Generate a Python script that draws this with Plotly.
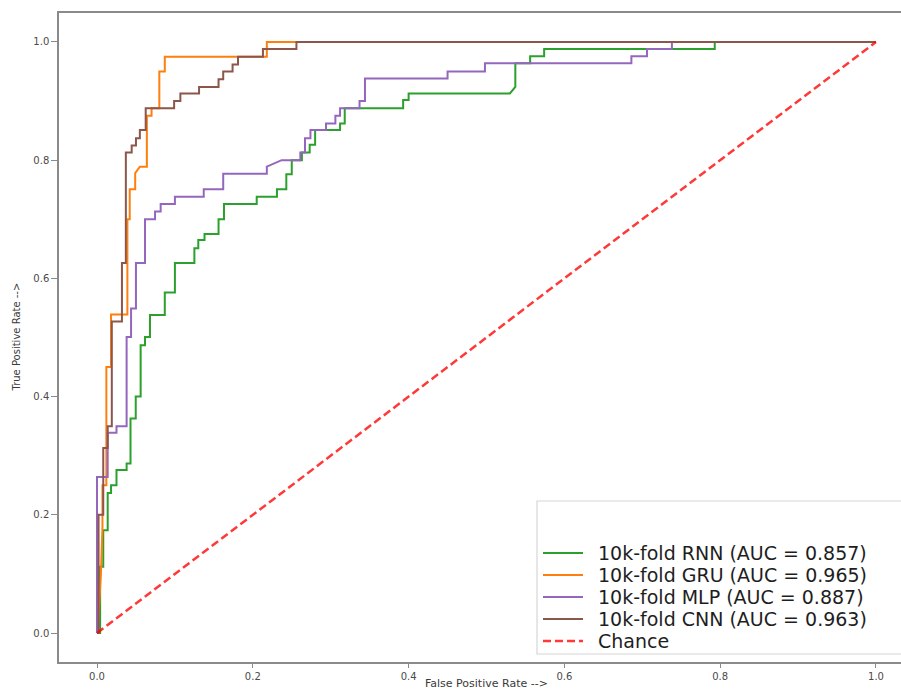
import plotly.graph_objects as go

# ---- data ----
rnn_fpr = [0, 0.004, 0.004, 0.008, 0.008, 0.0137, 0.0137, 0.018, 0.018, 0.025, 0.025, 0.038, 0.038, 0.043, 0.043,
           0.0497, 0.0497, 0.056, 0.056, 0.0616, 0.0616, 0.068, 0.068, 0.087, 0.087, 0.100, 0.100, 0.125, 0.125,
           0.130, 0.130, 0.138, 0.138, 0.156, 0.156, 0.163, 0.163, 0.205, 0.205, 0.231, 0.231, 0.243, 0.243,
           0.250, 0.250, 0.263, 0.263, 0.273, 0.273, 0.280, 0.280, 0.312, 0.312, 0.318, 0.318, 0.393, 0.393,
           0.400, 0.400, 0.530, 0.537, 0.537, 0.556, 0.556, 0.574, 0.574, 0.793, 0.793, 1.0]
rnn_tpr = [0, 0.0, 0.112, 0.112, 0.174, 0.174, 0.237, 0.237, 0.25, 0.25, 0.276, 0.276, 0.287, 0.287, 0.363,
           0.363, 0.40, 0.40, 0.487, 0.487, 0.501, 0.501, 0.538, 0.538, 0.576, 0.576, 0.626, 0.626, 0.651,
           0.651, 0.665, 0.665, 0.675, 0.675, 0.70, 0.70, 0.726, 0.726, 0.738, 0.738, 0.751, 0.751, 0.776,
           0.776, 0.80, 0.80, 0.813, 0.813, 0.826, 0.826, 0.851, 0.851, 0.862, 0.862, 0.888, 0.888, 0.902,
           0.902, 0.913, 0.913, 0.924, 0.964, 0.964, 0.976, 0.976, 0.988, 0.988, 1.0, 1.0]

gru_fpr = [0, 0.002, 0.005, 0.007, 0.007, 0.012, 0.012, 0.018, 0.018, 0.039, 0.039, 0.042, 0.042, 0.049, 0.049,
           0.055, 0.064, 0.064, 0.070, 0.070, 0.080, 0.080, 0.087, 0.087, 0.218, 0.218, 1.0]
gru_tpr = [0, 0.03, 0.10, 0.18, 0.25, 0.25, 0.45, 0.45, 0.539, 0.539, 0.70, 0.70, 0.751, 0.751, 0.778,
           0.789, 0.789, 0.875, 0.875, 0.888, 0.888, 0.95, 0.95, 0.975, 0.975, 1.0, 1.0]

mlp_fpr = [0, 0, 0.0137, 0.0137, 0.025, 0.025, 0.038, 0.038, 0.0437, 0.0437, 0.050, 0.050, 0.0616, 0.0616,
           0.0745, 0.0745, 0.0817, 0.0817, 0.100, 0.100, 0.137, 0.137, 0.162, 0.162, 0.218, 0.218, 0.237,
           0.261, 0.261, 0.267, 0.267, 0.274, 0.274, 0.294, 0.294, 0.306, 0.306, 0.312, 0.312, 0.337, 0.337,
           0.344, 0.344, 0.45, 0.45, 0.498, 0.498, 0.686, 0.686, 0.706, 0.706, 0.738, 0.738, 1.0]
mlp_tpr = [0, 0.264, 0.264, 0.339, 0.339, 0.35, 0.35, 0.501, 0.501, 0.549, 0.549, 0.626, 0.626, 0.70,
           0.70, 0.713, 0.713, 0.726, 0.726, 0.738, 0.738, 0.751, 0.751, 0.777, 0.777, 0.789, 0.80,
           0.80, 0.813, 0.813, 0.837, 0.837, 0.851, 0.851, 0.862, 0.862, 0.875, 0.875, 0.888, 0.888, 0.90,
           0.90, 0.938, 0.938, 0.95, 0.95, 0.964, 0.964, 0.976, 0.976, 0.988, 0.988, 1.0, 1.0]

cnn_fpr = [0, 0.002, 0.002, 0.008, 0.008, 0.0137, 0.0137, 0.019, 0.019, 0.032, 0.032, 0.037, 0.037, 0.0445,
           0.0445, 0.050, 0.050, 0.055, 0.055, 0.0625, 0.0625, 0.099, 0.099, 0.107, 0.107, 0.131, 0.131,
           0.156, 0.156, 0.162, 0.162, 0.174, 0.174, 0.181, 0.181, 0.213, 0.213, 0.256, 0.256, 1.0]
cnn_tpr = [0, 0, 0.20, 0.20, 0.313, 0.313, 0.35, 0.35, 0.527, 0.527, 0.626, 0.626, 0.813, 0.813,
           0.825, 0.825, 0.837, 0.837, 0.851, 0.851, 0.888, 0.888, 0.90, 0.90, 0.913, 0.913, 0.924,
           0.924, 0.937, 0.937, 0.95, 0.95, 0.962, 0.962, 0.975, 0.975, 0.988, 0.988, 1.0, 1.0]

chance_x = [0, 1]
chance_y = [0, 1]

labels = ["10k-fold RNN (AUC = 0.857)", "10k-fold GRU (AUC = 0.965)",
          "10k-fold MLP (AUC = 0.887)", "10k-fold CNN (AUC = 0.963)", "Chance"]
colors = ["#2ca02c", "#ff7f0e", "#9467bd", "#8c564b", "rgba(255,0,0,0.78)"]
ticks = [0.0, 0.2, 0.4, 0.6, 0.8, 1.0]
tick_text = ["0.0", "0.2", "0.4", "0.6", "0.8", "1.0"]

W, H = 901, 691
ML, MT, MB = 59, 13, 29
PW, PH = W - ML, H - MT - MB
FONT = "DejaVu Sans"


def px_x(px):
    return (px - ML) / PW


def px_y(py):
    return (H - MB - py) / PH


fig = go.Figure()
series = [(rnn_fpr, rnn_tpr), (gru_fpr, gru_tpr), (mlp_fpr, mlp_tpr), (cnn_fpr, cnn_tpr)]
for (xs, ys), name, c in zip(series, labels[:4], colors[:4]):
    fig.add_trace(go.Scatter(x=xs, y=ys, mode="lines", name=name,
                             line=dict(color=c, width=2)))
fig.add_trace(go.Scatter(x=chance_x, y=chance_y, mode="lines", name=labels[4],
                         line=dict(color=colors[4], width=2.5, dash="8px,4px")))

axis_color = "#8a8a8a"
tick_font = dict(family=FONT, size=10, color="#4a4a4a")

# legend box + entries (matplotlib-style legend in lower right)
shapes = [dict(type="rect", xref="paper", yref="paper",
               x0=px_x(537), x1=px_x(915), y0=px_y(654), y1=px_y(501),
               line=dict(color="#d6d6d6", width=1.2), fillcolor="white", layer="below")]
annotations = []
legend_rows = [553, 575, 597, 619, 641]
for name, c, row, dash in zip(labels, colors, legend_rows, ["solid"] * 4 + ["dash"]):
    shapes.append(dict(type="line", xref="paper", yref="paper",
                       x0=px_x(543), x1=px_x(583), y0=px_y(row), y1=px_y(row),
                       line=dict(color=c, width=2.5 if dash == "dash" else 2,
                                 dash="8px,4px" if dash == "dash" else "solid")))
    annotations.append(dict(text=name, xref="paper", yref="paper", x=px_x(596), y=px_y(row),
                            xanchor="left", yanchor="middle", showarrow=False,
                            font=dict(family=FONT, size=19, color="#1e1e1e")))

annotations += [
    dict(text="False Positive Rate -->", xref="paper", yref="paper",
         x=px_x(486), y=px_y(683), xanchor="center", yanchor="middle",
         showarrow=False, font=dict(family=FONT, size=11, color="#3a3a3a")),
    dict(text="True Positive Rate -->", xref="paper", yref="paper",
         x=px_x(16), y=0.5, xanchor="center", yanchor="middle", textangle=-90,
         showarrow=False, font=dict(family=FONT, size=10, color="#3a3a3a")),
]

fig.update_layout(
    width=W, height=H,
    margin=dict(l=ML, r=0, t=MT, b=MB, autoexpand=False),
    paper_bgcolor="white", plot_bgcolor="white",
    showlegend=False,
    xaxis=dict(range=[-0.0488, 1.0321], tickvals=ticks, ticktext=tick_text,
               showgrid=False, zeroline=False, showline=True, linecolor=axis_color,
               linewidth=1.5, mirror=True, ticks="outside", ticklen=4, tickcolor=axis_color,
               tickfont=tick_font, automargin=False),
    yaxis=dict(range=[-0.049, 1.049], tickvals=ticks, ticktext=tick_text,
               showgrid=False, zeroline=False, showline=True, linecolor=axis_color,
               linewidth=1.5, mirror=False, ticks="outside", ticklen=6, tickcolor=axis_color,
               tickfont=tick_font, automargin=False),
    shapes=shapes,
    annotations=annotations,
)

fig.write_html(
    "out.html",
    config={"displayModeBar": False},
    post_script="document.body.style.margin='0';document.body.style.overflow='hidden';"
                "document.documentElement.style.overflow='hidden';",
)
